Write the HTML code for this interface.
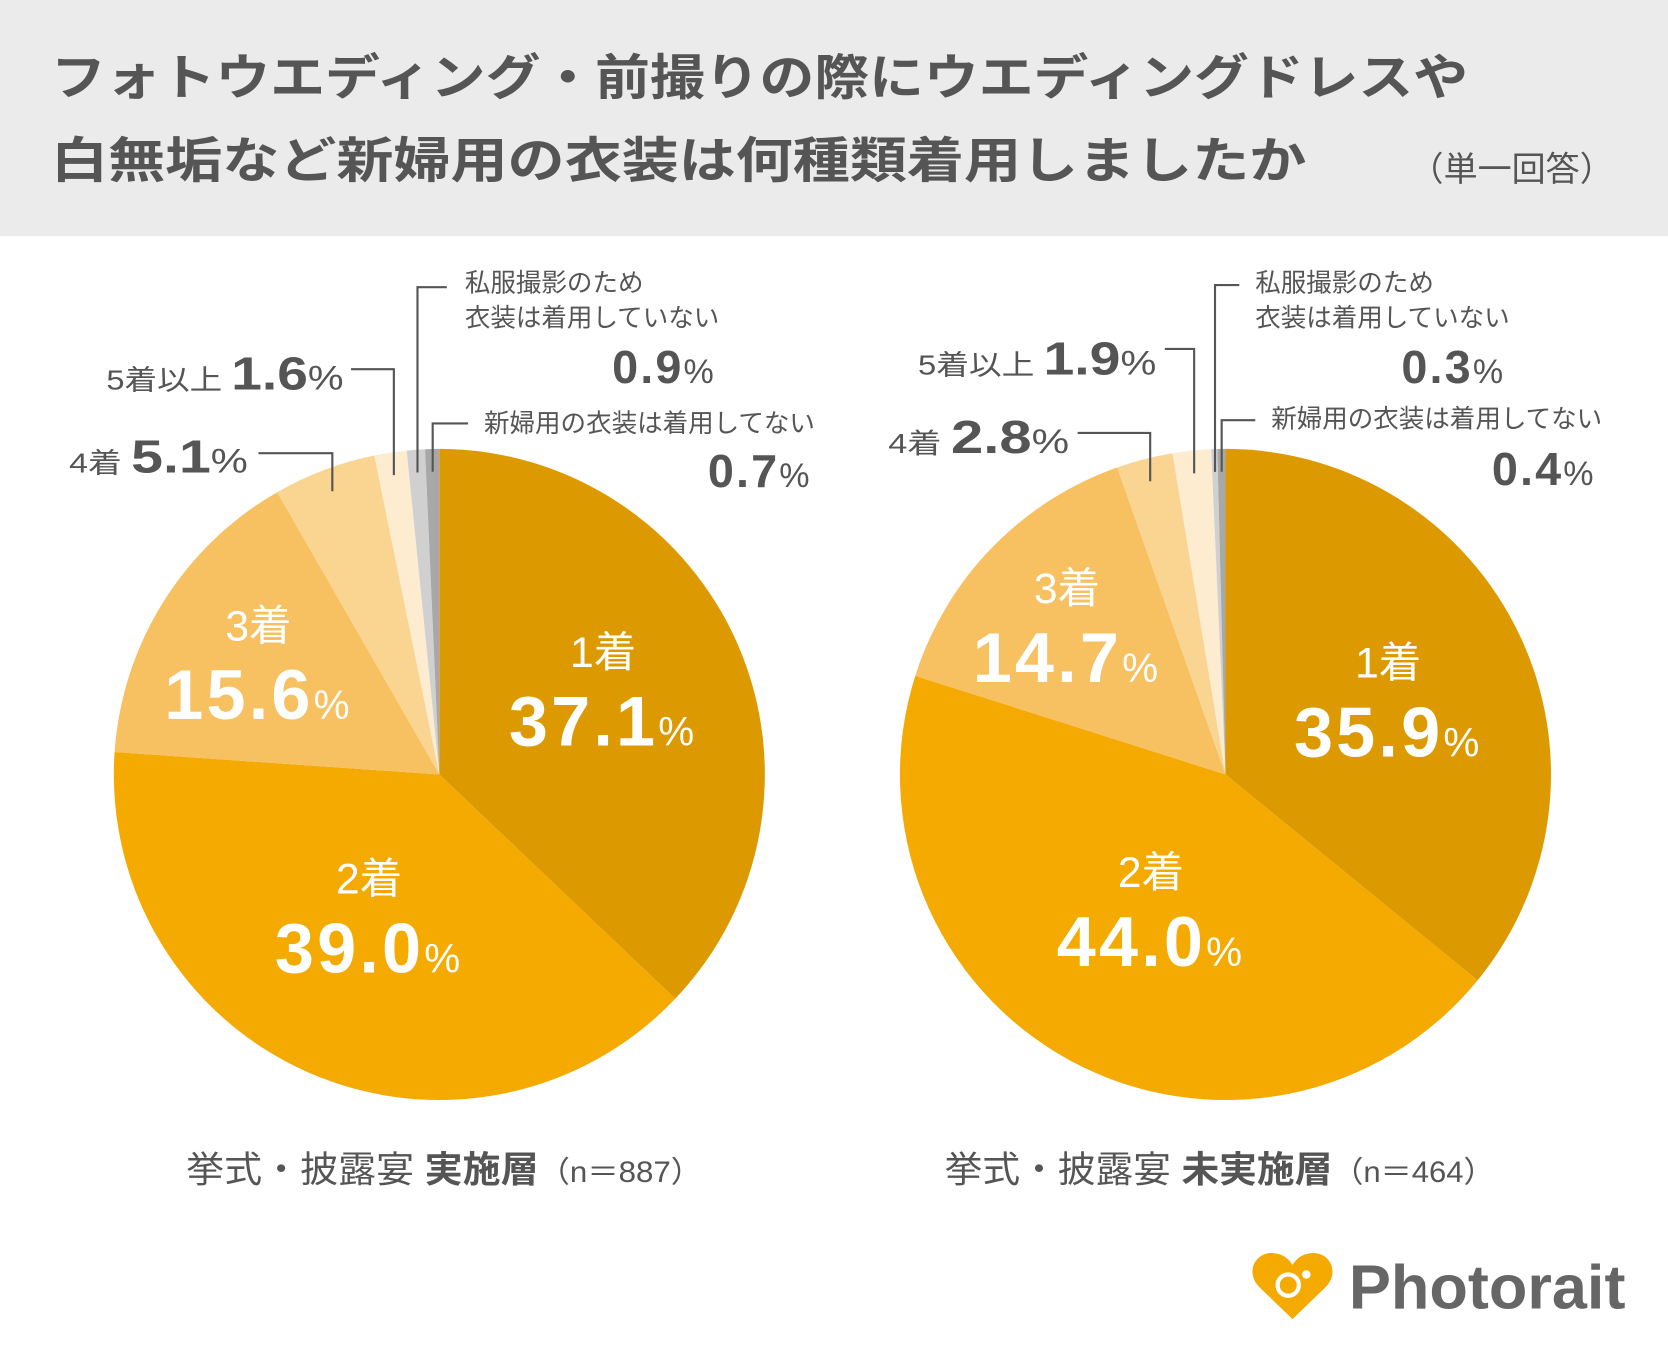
<!DOCTYPE html>
<html><head><meta charset="utf-8"><style>
html,body{margin:0;padding:0;background:#fff;}
svg{display:block;font-family:"Liberation Sans","Noto Sans CJK JP",sans-serif;}
</style></head><body>
<svg id="chart" width="1668" height="1350" viewBox="0 0 1568 1269" preserveAspectRatio="none" xmlns="http://www.w3.org/2000/svg">
<rect x="0" y="0" width="1568" height="222" fill="#ebebeb"/>
<g fill="#555" font-weight="bold" font-size="46">
<text x="48" y="89" textLength="1332" lengthAdjust="spacingAndGlyphs">フォトウエディング・前撮りの際にウエディングドレスや</text>
<text x="48" y="167" textLength="1180" lengthAdjust="spacingAndGlyphs">白無垢など新婦用の衣装は何種類着用しましたか</text>
</g>
<text x="1517" y="170" text-anchor="end" fill="#555" font-size="32">（単一回答）</text>
<g id="pies"></g>
<g fill="#555" font-size="34">
<text x="175" y="1111" textLength="485" lengthAdjust="spacingAndGlyphs">挙式・披露宴 <tspan font-weight="bold">実施層</tspan><tspan font-size="28">（n＝887）</tspan></text>
<text x="888" y="1111" textLength="517" lengthAdjust="spacingAndGlyphs">挙式・披露宴 <tspan font-weight="bold">未実施層</tspan><tspan font-size="28">（n＝464）</tspan></text>
</g>
<g>
<path d="M1215 1240 L1184 1210 C1170 1196 1180 1176 1198 1178 C1207 1179 1212 1184 1215 1189 C1218 1184 1223 1179 1232 1178 C1250 1176 1260 1196 1246 1210 Z" fill="#f4aa00"/>
<circle cx="1211" cy="1208" r="10" fill="none" stroke="#fff" stroke-width="4"/>
<circle cx="1228" cy="1198" r="4" fill="#fff"/>
<text x="1268" y="1230" fill="#666" font-weight="bold" font-size="58" textLength="260" lengthAdjust="spacingAndGlyphs">Photorait</text>
</g>
</svg>
<script>
const categories = ["1着","2着","3着","4着","5着以上","私服撮影のため衣装は着用していない","新婦用の衣装は着用してない"];
const colors = ["#dc9a00","#f4aa00","#f7c060","#fad591","#fdecd0","#d0d0d0","#a8a8a8"];
const leftValues = [37.1,39.0,15.6,5.1,1.6,0.9,0.7];
const rightValues = [35.9,44.0,14.7,2.8,1.9,0.3,0.4];
const NS="http://www.w3.org/2000/svg";
const root=document.getElementById('pies');
function el(tag,attrs,parent){const e=document.createElementNS(NS,tag);for(const k in attrs)e.setAttribute(k,attrs[k]);(parent||root).appendChild(e);return e;}
function pt(cx,cy,r,frac){const a=frac*2*Math.PI;return [cx+r*Math.sin(a),cy-r*Math.cos(a)];}
function fmt(v){return v.toFixed(1);}
function drawPie(vals,cx,cy,r,side,inner,outer){
  const total=vals.reduce((a,b)=>a+b,0);
  let acc=0;
  const g=el('g',{});
  
  
  const mids=[];
  vals.forEach((v,i)=>{
    const s=acc/total, e=(acc+v)/total; acc+=v;
    const [x1,y1]=pt(cx,cy,r,s),[x2,y2]=pt(cx,cy,r,e);
    const p=el('path',{d:`M${cx},${cy} L${x1},${y1} A${r},${r} 0 ${e-s>0.5?1:0} 1 ${x2},${y2} Z`,fill:colors[i]},g);
    
    
    mids.push((s+e)/2);
  });
  inner.forEach((o,i)=>{
    const t1=el('text',{x:o[0],y:o[1],'text-anchor':'middle',fill:'#fff','font-size':40},g);
    t1.textContent=categories[i];
    
    
    const t2=el('text',{x:o[0],y:o[1]+74,'text-anchor':'middle',fill:'#fff','font-size':66,'font-weight':'bold','letter-spacing':3},g);
    t2.innerHTML=fmt(vals[i])+'<tspan font-size="38" font-weight="normal">%</tspan>';
    
    
  });
  outer.forEach(o=>{
    const i=o.i;
    const [px,py]=pt(cx,cy,r*0.93,mids[i]);
    const ln=el('polyline',{points:`${o.lx},${o.ly} ${px},${o.ly} ${px},${py}`,fill:'none',stroke:'#555','stroke-width':2},g);
    
    
    const t=el('text',{x:o.tx,y:o.ty,fill:'#555','font-size':26},g);
    
    
    if(o.inline){
      t.setAttribute('textLength',o.w);
      t.setAttribute('lengthAdjust','spacingAndGlyphs');
      t.innerHTML=o.name+' <tspan font-size="44" font-weight="bold">'+fmt(vals[i])+'</tspan><tspan font-size="32">%</tspan>';
    } else {
      o.lines.forEach((s,k)=>{const ts=el('tspan',{x:o.tx,y:o.ty+k*33},t);ts.textContent=s;});
      t.setAttribute('font-size','24');
      const tv=el('text',{x:o.vx,y:o.vy,fill:'#555','text-anchor':'end','font-size':44,'font-weight':'bold','letter-spacing':2},g);
      tv.innerHTML=fmt(vals[i])+'<tspan font-size="32" font-weight="normal">%</tspan>';
      
      
    }
  });
}
drawPie(leftValues,413,728,306,'left',[[567,627],[347,840],[243,602]],[
 {i:3,inline:true,name:'4着',tx:65,ty:444,lx:243,ly:426,w:168},
 {i:4,inline:true,name:'5着以上',tx:100,ty:366,lx:330,ly:347,w:223},
 {i:5,lines:['私服撮影のため','衣装は着用していない'],tx:437,ty:274,lx:420,ly:270,vx:673,vy:360},
 {i:6,lines:['新婦用の衣装は着用してない'],tx:455,ty:406,lx:440,ly:398,vx:763,vy:458}
]);
drawPie(rightValues,1152,728,306,'right',[[1305,637],[1082,834],[1003,567]],[
 {i:3,inline:true,name:'4着',tx:835,ty:426,lx:1013,ly:407,w:170},
 {i:4,inline:true,name:'5着以上',tx:863,ty:352,lx:1095,ly:328,w:224},
 {i:5,lines:['私服撮影のため','衣装は着用していない'],tx:1180,ty:274,lx:1165,ly:268,vx:1415,vy:360},
 {i:6,lines:['新婦用の衣装は着用してない'],tx:1195,ty:402,lx:1180,ly:395,vx:1500,vy:456}
]);
</script>
</body></html>
